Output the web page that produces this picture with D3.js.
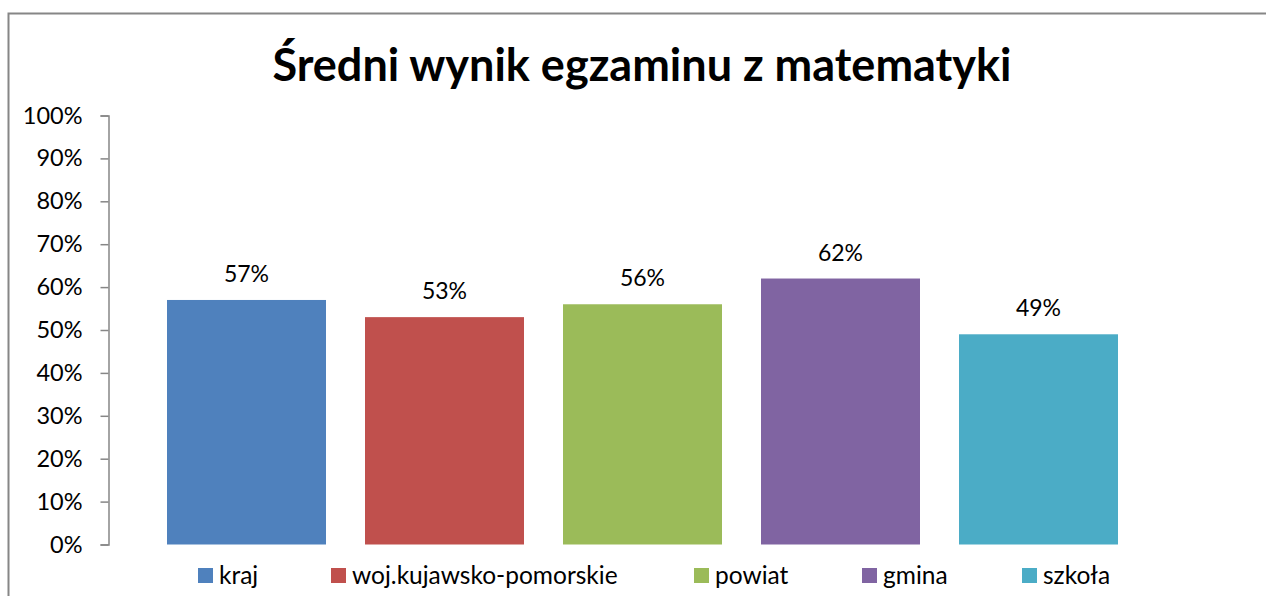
<!DOCTYPE html>
<html lang="pl">
<head>
<meta charset="utf-8">
<script src="https://d3js.org/d3.v7.min.js"></script>
<style>
  body { margin: 0; background: #fff; }
  text { font-family: Lato, "Open Sans", sans-serif; fill: #000; }
</style>
</head>
<body>
<div id="chart"></div>
<script>
// data
var names = ["kraj", "woj.kujawsko-pomorskie", "powiat", "gmina", "szkoła"];
var values = [57, 53, 56, 62, 49];
var colors = ["#4f81bd", "#c0504d", "#9bbb59", "#8064a2", "#4bacc6"];
var ticks = [0, 10, 20, 30, 40, 50, 60, 70, 80, 90, 100];
var legendX = [198, 331, 694, 862, 1022];
var title = "Średni wynik egzaminu z matematyki";

var width = 1266, height = 596;

var svg = d3.select("#chart").append("svg")
    .attr("width", width)
    .attr("height", height);

// chart frame (only top & left visible)
svg.append("rect")
    .attr("x", 8.5).attr("y", 13.5)
    .attr("width", 1400).attr("height", 700)
    .attr("fill", "none")
    .attr("stroke", "#868686")
    .attr("stroke-width", 2);

svg.append("text")
    .attr("x", 642).attr("y", 81)
    .attr("text-anchor", "middle")
    .attr("font-size", 45)
    .attr("font-weight", "bold")
    .text(title);

var y = d3.scaleLinear().domain([0, 100]).range([544.5, 115.5]);
var x = d3.scaleBand().domain(names).range([147.5, 1137.5])
    .paddingInner(0.197).paddingOuter(0.0985);

// y axis
var yAxis = svg.append("g")
    .attr("transform", "translate(108.5,0)")
    .call(d3.axisLeft(y).tickValues(ticks).tickFormat(d => d + "%").tickSize(8).tickPadding(18));
yAxis.select(".domain").attr("stroke", "#868686").attr("stroke-width", 1.5);
yAxis.selectAll(".tick line").attr("stroke", "#868686").attr("stroke-width", 1.5);
yAxis.selectAll(".tick text")
    .attr("font-size", 23.5)
    .attr("font-family", "Lato, sans-serif")
    .attr("fill", "#000");

// bars
svg.append("g").selectAll("rect")
    .data(values)
    .join("rect")
    .attr("x", (d, i) => x(names[i]))
    .attr("y", d => y(d))
    .attr("width", x.bandwidth())
    .attr("height", d => y(0) - y(d))
    .attr("fill", (d, i) => colors[i]);

// value labels
svg.append("g").selectAll("text")
    .data(values)
    .join("text")
    .attr("x", (d, i) => x(names[i]) + x.bandwidth() / 2)
    .attr("y", d => y(d) - 18)
    .attr("text-anchor", "middle")
    .attr("font-size", 23)
    .text(d => d + "%");

// legend
var leg = svg.append("g").selectAll("g")
    .data(names)
    .join("g")
    .attr("transform", (d, i) => `translate(${legendX[i]},568)`);
leg.append("rect")
    .attr("width", 15).attr("height", 15)
    .attr("fill", (d, i) => colors[i]);
leg.append("text")
    .attr("x", 21).attr("y", 15.5)
    .attr("font-size", 24.5)
    .text(d => d);
</script>
</body>
</html>
